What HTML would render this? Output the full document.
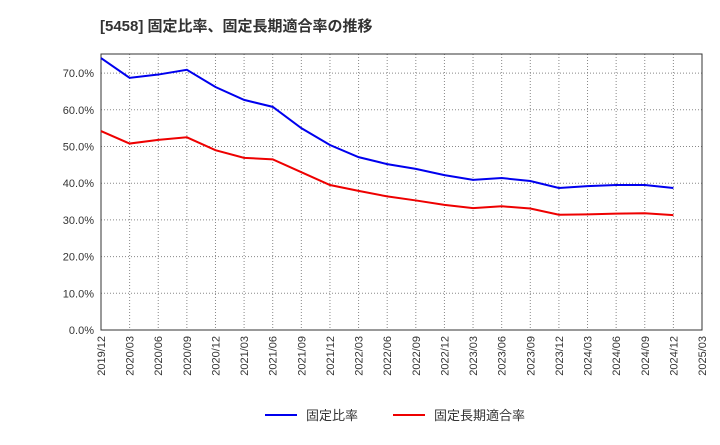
<!DOCTYPE html>
<html><head><meta charset="utf-8"><style>
body{margin:0;background:#fff;font-family:"Liberation Sans","Noto Sans CJK JP",sans-serif;}
svg text{font-family:"Liberation Sans","Noto Sans CJK JP",sans-serif;}
</style></head><body>
<svg id="chart" width="720" height="440">
<text x="100" y="31" font-size="15" font-weight="bold" fill="#333">[5458]  固定比率、固定長期適合率の推移</text>
<g id="grid"></g><g id="axes"></g><g id="series"></g>
<g>
<line x1="265" y1="415" x2="297" y2="415" stroke="#0000ee" stroke-width="2"/>
<text x="306" y="420" font-size="13" fill="#333">固定比率</text>
<line x1="393" y1="415" x2="425" y2="415" stroke="#ee0000" stroke-width="2"/>
<text x="434" y="420" font-size="13" fill="#333">固定長期適合率</text>
</g>
</svg>
<script>
const categories=["2019/12","2020/03","2020/06","2020/09","2020/12","2021/03","2021/06","2021/09","2021/12","2022/03","2022/06","2022/09","2022/12","2023/03","2023/06","2023/09","2023/12","2024/03","2024/06","2024/09","2024/12","2025/03"];
const fixedRatio=[74.1,68.7,69.6,70.9,66.2,62.7,60.8,55.0,50.4,47.1,45.2,43.9,42.2,40.9,41.4,40.6,38.7,39.2,39.5,39.5,38.7];
const fixedLongTermRatio=[54.2,50.8,51.8,52.5,49.0,46.9,46.5,43.0,39.5,37.9,36.4,35.3,34.1,33.2,33.7,33.1,31.4,31.5,31.7,31.8,31.3];
const yTicks=[0,10,20,30,40,50,60,70];
const yTickLabels=["0.0%","10.0%","20.0%","30.0%","40.0%","50.0%","60.0%","70.0%"];
const L=101,R=702,T=54,B=330,yMax=75.2;
const ns="http://www.w3.org/2000/svg";
function x(i){return L+(R-L)*i/(categories.length-1);}
function y(v){return B-(B-T)*v/yMax;}
function mk(p,t,a){const e=document.createElementNS(ns,t);for(const k in a)e.setAttribute(k,a[k]);p.appendChild(e);return e;}
const grid=document.getElementById('grid'),axes=document.getElementById('axes'),ser=document.getElementById('series');
yTicks.forEach((v,i)=>{
 const g=mk(grid,'line',{x1:L,x2:R,y1:y(v),y2:y(v),stroke:'#888','stroke-dasharray':'1,2','stroke-width':1});
 
 
 const t=mk(axes,'text',{x:L-7,y:y(v)+4,'text-anchor':'end','font-size':11,fill:'#333'});
 t.textContent=yTickLabels[i];
 
 
});
categories.forEach((c,i)=>{
 if(i>0&&i<categories.length-1){const g=mk(grid,'line',{x1:x(i),x2:x(i),y1:T,y2:B,stroke:'#888','stroke-dasharray':'1,2','stroke-width':1});
 
 }
 const t=mk(axes,'text',{transform:`translate(${x(i)+4},${B+6}) rotate(-90)`,'text-anchor':'end','font-size':11,fill:'#333'});
 t.textContent=c;
 
 
});
const frame=mk(axes,'rect',{x:L,y:T,width:R-L,height:B-T,fill:'none',stroke:'#333','stroke-width':1});


function line(vals,color,name){
 const p=mk(ser,'polyline',{points:vals.map((v,i)=>x(i)+','+y(v)).join(' '),fill:'none',stroke:color,'stroke-width':2});
 
 
}
line(fixedRatio,'#0000ee','fixed-ratio-line');
line(fixedLongTermRatio,'#ee0000','fixed-long-term-ratio-line');
</script>
</body></html>
